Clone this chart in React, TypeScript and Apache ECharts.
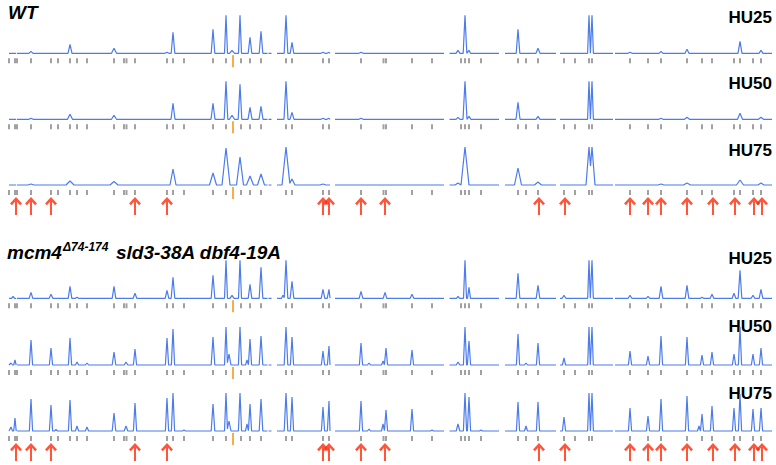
import React, { useEffect, useRef } from "react";
import * as echarts from "echarts";

type Peak = [number, number, number]; // [position, height, half-width]

// Chromosome segments along the genome axis (gaps between them)
const SEGMENTS: [number, number][] = [
  [9, 16.2], [17, 267.5], [268.5, 271.5], [277, 330], [335, 444],
  [449.5, 499], [505, 556], [560, 613], [615, 772],
];

const WT_HU25: Peak[] = [
  [31, 2, 2], [70, 9, 2], [114, 5, 2.5], [167, 1, 2], [173, 21, 1.8], [213, 24, 1.8],
  [226, 38, 1.5], [232, 3, 2.5], [240, 38, 1.5], [250, 16, 1.8], [261, 22, 1.8],
  [286, 38, 1.8], [292, 11, 1.8], [323, 1, 2], [329, 1, 2], [361, 1, 2],
  [458, 3, 2], [465, 38, 1.8], [469, 3, 1.5], [518, 24, 1.8], [538, 5, 2],
  [589, 38, 1.4], [592, 38, 1.4], [630, 1, 2], [661, 2, 2], [687, 4, 2], [740, 12, 2], [761, 3, 2],
];

const WT_HU50: Peak[] = [
  [31, 1, 2], [70, 5, 2.5], [114, 4, 2.5], [173, 16, 2], [213, 16, 2], [226, 38, 1.8],
  [232, 4, 2.5], [240, 35, 1.8], [250, 12, 2], [261, 13, 2], [286, 38, 2], [292, 7, 2],
  [323, 1, 2], [329, 1, 2], [361, 1, 2], [458, 2, 2], [465, 38, 2], [469, 3, 2],
  [518, 17, 2], [538, 3, 2], [589, 38, 1.4], [592, 38, 1.4], [661, 1, 2], [687, 2, 2.5],
  [740, 6, 2.5], [761, 2, 2.5],
];

const WT_HU75: Peak[] = [
  [31, 1, 3], [70, 4, 4], [114, 3.5, 4], [173, 16, 3], [213, 12, 3.5], [226, 37, 4],
  [240, 28, 3.5], [250, 9, 3.5], [261, 11, 3.5], [286, 38, 4], [292, 6, 3], [323, 1, 3],
  [458, 2, 3], [465, 38, 4], [518, 17, 3.5], [538, 3, 3.5], [589, 38, 3], [592, 38, 3],
  [661, 1, 3], [687, 2, 3.5], [740, 5, 3.5], [761, 2, 3],
];

const MUT_HU25: Peak[] = [
  [13, 2, 1.5], [31, 6, 1.8], [51, 4, 1.8], [70, 12, 1.8], [77, 1, 1.5], [114, 12, 1.8],
  [135, 5, 1.8], [167, 8, 1.8], [173, 21, 1.8], [213, 23, 1.8], [226, 38, 1.5], [232, 3, 2],
  [240, 38, 1.5], [250, 14, 1.8], [261, 31, 1.8], [283, 3, 1.5], [286, 38, 1.8], [292, 17, 1.8],
  [323, 9, 1.8], [329, 9, 1.8], [361, 7, 1.8], [385, 6, 1.8], [412, 4, 1.8], [458, 2, 1.5],
  [465, 38, 1.5], [469, 11, 1.5], [518, 25, 1.8], [538, 13, 1.8], [564, 3, 1.8],
  [589, 38, 1.3], [592, 38, 1.3], [630, 3, 1.8], [648, 2, 1.8], [661, 12, 1.8], [687, 13, 1.8],
  [702, 1, 1.5], [712, 4, 1.8], [734, 5, 1.8], [740, 28, 1.8], [753, 3, 1.8], [761, 9, 1.8],
];

const MUT_HU50: Peak[] = [
  [11, 2, 1.5], [15, 5, 1.3], [31, 25, 1.6], [51, 17, 1.6], [70, 27, 1.6], [77, 3, 1.6],
  [87, 2, 1.6], [114, 13, 1.8], [126, 3, 1.8], [135, 16, 1.6], [167, 27, 1.6], [173, 36, 1.6],
  [213, 28, 1.8], [226, 38, 1.5], [229, 11, 2], [240, 38, 1.6], [247, 5, 1.5], [250, 26, 1.6],
  [261, 29, 1.8], [286, 38, 1.8], [292, 28, 1.6], [323, 14, 1.6], [329, 19, 1.6], [361, 22, 1.6],
  [369, 2, 1.5], [383, 4, 1.5], [386, 17, 1.6], [412, 15, 1.6], [458, 3, 1.8], [465, 38, 1.6],
  [469, 24, 1.6], [518, 31, 1.6], [526, 2, 1.5], [538, 22, 1.6], [564, 7, 1.6], [589, 38, 1.3],
  [592, 38, 1.3], [630, 14, 1.6], [648, 9, 1.6], [661, 29, 1.6], [687, 28, 1.6], [702, 10, 1.6],
  [712, 13, 1.6], [734, 11, 1.6], [740, 38, 1.6], [753, 11, 1.6], [761, 17, 1.6],
];

const MUT_HU75: Peak[] = [
  [11, 4, 1.5], [15, 13, 1.3], [31, 32, 1.6], [51, 26, 1.6], [56, 1.5, 1.5], [70, 31, 1.6],
  [77, 5, 1.6], [87, 4, 1.6], [114, 18, 1.8], [126, 5, 1.8], [135, 28, 1.6], [167, 33, 1.6],
  [173, 38, 1.6], [184, 1, 1.5], [213, 27, 1.8], [226, 38, 1.5], [229, 10, 2], [240, 38, 1.6],
  [247, 7, 1.5], [250, 27, 1.6], [261, 32, 1.8], [286, 38, 1.8], [292, 34, 1.6], [323, 24, 1.6],
  [329, 30, 1.6], [361, 30, 1.6], [369, 2, 1.5], [383, 7, 1.5], [386, 21, 1.6], [412, 22, 1.6],
  [432, 1, 1.5], [458, 7, 1.8], [465, 38, 1.6], [469, 34, 1.6], [481, 1, 1.5], [518, 29, 1.6],
  [526, 5, 1.5], [538, 29, 1.6], [564, 14, 1.6], [589, 38, 1.4], [592, 38, 1.4], [630, 23, 1.6],
  [648, 15, 1.6], [661, 32, 1.6], [687, 35, 1.6], [699, 5, 1.5], [702, 17, 1.5], [712, 25, 1.6],
  [734, 23, 1.6], [740, 37, 1.6], [753, 22, 1.6], [761, 23, 1.6],
];

const TRACKS: Peak[][] = [WT_HU25, WT_HU50, WT_HU75, MUT_HU25, MUT_HU50, MUT_HU75];
const TRACK_LABELS = ["HU25", "HU50", "HU75", "HU25", "HU50", "HU75"];

const GREY_TICKS = [
  9, 15, 17, 31, 51, 58, 70, 77, 87, 114, 124, 126.5, 135, 167, 173, 184, 213, 226, 241, 250,
  261, 286, 292, 323, 329, 361, 383.5, 386, 412, 432, 461, 465, 469, 481, 518, 526, 538, 564,
  575, 589, 592, 630, 648, 661, 687, 702, 712, 734, 740, 753, 761,
];
const ORANGE_TICKS = [233];
const ARROWS = [16, 31, 51, 135, 167, 323, 329, 361, 385, 539, 565, 630, 648, 661, 687, 713, 735, 754, 762];

// layout (pixels)
const BASELINES = [53.3, 119.3, 185, 298.3, 365, 431];
const LABEL_Y = [17.2, 83.2, 150.8, 258, 326, 393];
const Y_MAX = 40;
const Y_MIN = -32;

const LINE_COLOR = "#4b7bec";
const ARROW_PATH =
  "path://M12,0 L24,13 L20,16.5 L14,9.5 L14,36 L10,36 L10,9.5 L4,16.5 L0,13 Z";

function buildLine(peaks: Peak[]): (number | null)[][] {
  const out: (number | null)[][] = [];
  SEGMENTS.forEach(([s, e], si) => {
    const ps = peaks.filter((p) => p[0] >= s && p[0] <= e).sort((a, b) => a[0] - b[0]);
    const pts: number[][] = [[s, 0]];
    let prev: Peak | null = null;
    for (const pk of ps) {
      const [p, h, w] = pk;
      if (prev) {
        const [pa, ha, wa] = prev;
        if (pa + wa > p - w) {
          const x = (ha - h + (ha * pa) / wa + (h * p) / w) / (ha / wa + h / w);
          const xc = Math.min(Math.max(x, pa), p);
          const y = ha * (1 - (xc - pa) / wa);
          pts.push([xc, Math.max(y, 0)]);
        } else {
          pts.push([pa + wa, 0]);
          pts.push([Math.max(p - w, s), 0]);
        }
      } else {
        pts.push([Math.max(p - w, s), 0]);
      }
      pts.push([p, h]);
      prev = pk;
    }
    if (prev) pts.push([Math.min(prev[0] + prev[2], e), 0]);
    pts.push([e, 0]);
    out.push(...pts);
    if (si < SEGMENTS.length - 1) out.push([(e + SEGMENTS[si + 1][0]) / 2, null]);
  });
  return out;
}

export default function App() {
  const ref = useRef<HTMLDivElement>(null);
  useEffect(() => {
    if (!ref.current) return;
    const chart = echarts.init(ref.current, undefined, { renderer: "svg" });
    const grids: any[] = [];
    const xAxes: any[] = [];
    const yAxes: any[] = [];
    const series: any[] = [];
    TRACKS.forEach((peaks, i) => {
      grids.push({ left: 0, width: 776, top: BASELINES[i] - Y_MAX, height: Y_MAX - Y_MIN });
      xAxes.push({ type: "value", gridIndex: i, min: 0, max: 776, show: false });
      yAxes.push({ type: "value", gridIndex: i, min: Y_MIN, max: Y_MAX, show: false });
      series.push({
        type: "line",
        xAxisIndex: i,
        yAxisIndex: i,
        data: buildLine(peaks),
        showSymbol: false,
        connectNulls: false,
        silent: true,
        lineStyle: { color: LINE_COLOR, width: 1.2 },
        z: 3,
      });
      series.push({
        type: "scatter",
        xAxisIndex: i,
        yAxisIndex: i,
        data: GREY_TICKS.map((x) => [x, -7.5]),
        symbol: "rect",
        symbolSize: [2, 5],
        itemStyle: { color: "#8a8a8a" },
        silent: true,
      });
      series.push({
        type: "scatter",
        xAxisIndex: i,
        yAxisIndex: i,
        data: ORANGE_TICKS.map((x) => [x, -8]),
        symbol: "rect",
        symbolSize: [2, 12],
        itemStyle: { color: "#f39a1e" },
        silent: true,
      });
      if (i === 2 || i === 5) {
        series.push({
          type: "scatter",
          xAxisIndex: i,
          yAxisIndex: i,
          data: ARROWS.map((x) => [x, -21]),
          symbol: ARROW_PATH,
          symbolSize: [12, 18],
          itemStyle: { color: "#ff2a0a" },
          silent: true,
        });
      }
    });

    const labelFont = 'bold 17px "Liberation Sans", Arial, sans-serif';
    const titleFont = 'italic bold 19px "Liberation Sans", Arial, sans-serif';
    const graphic: any[] = TRACK_LABELS.map((t, i) => ({
      type: "text",
      x: 772,
      y: LABEL_Y[i],
      style: {
        text: t, font: labelFont, fill: "#000",
        align: "right", verticalAlign: "middle", textAlign: "right", textVerticalAlign: "middle",
      },
    }));
    graphic.push(
      {
        type: "text", x: 8, y: 12,
        style: { text: "WT", font: titleFont, fill: "#000", align: "left", verticalAlign: "middle", textAlign: "left", textVerticalAlign: "middle" },
      },
      {
        type: "text", x: 7, y: 252,
        style: { text: "mcm4", font: titleFont, fill: "#000", align: "left", verticalAlign: "middle", textAlign: "left", textVerticalAlign: "middle" },
      },
      {
        type: "text", x: 63, y: 247,
        style: { text: "Δ74-174", font: 'italic bold 12px "Liberation Sans", Arial, sans-serif', fill: "#000", align: "left", verticalAlign: "middle", textAlign: "left", textVerticalAlign: "middle" },
      },
      {
        type: "text", x: 116, y: 252,
        style: { text: "sld3-38A dbf4-19A", font: titleFont, fill: "#000", align: "left", verticalAlign: "middle", textAlign: "left", textVerticalAlign: "middle" },
      }
    );

    chart.setOption({
      animation: false,
      backgroundColor: "#ffffff",
      grid: grids,
      xAxis: xAxes,
      yAxis: yAxes,
      series,
      graphic,
    });
    return () => chart.dispose();
  }, []);
  return (
    <div
      ref={ref}
      style={{ position: "fixed", left: 0, top: 0, width: 776, height: 465 }}
    />
  );
}
